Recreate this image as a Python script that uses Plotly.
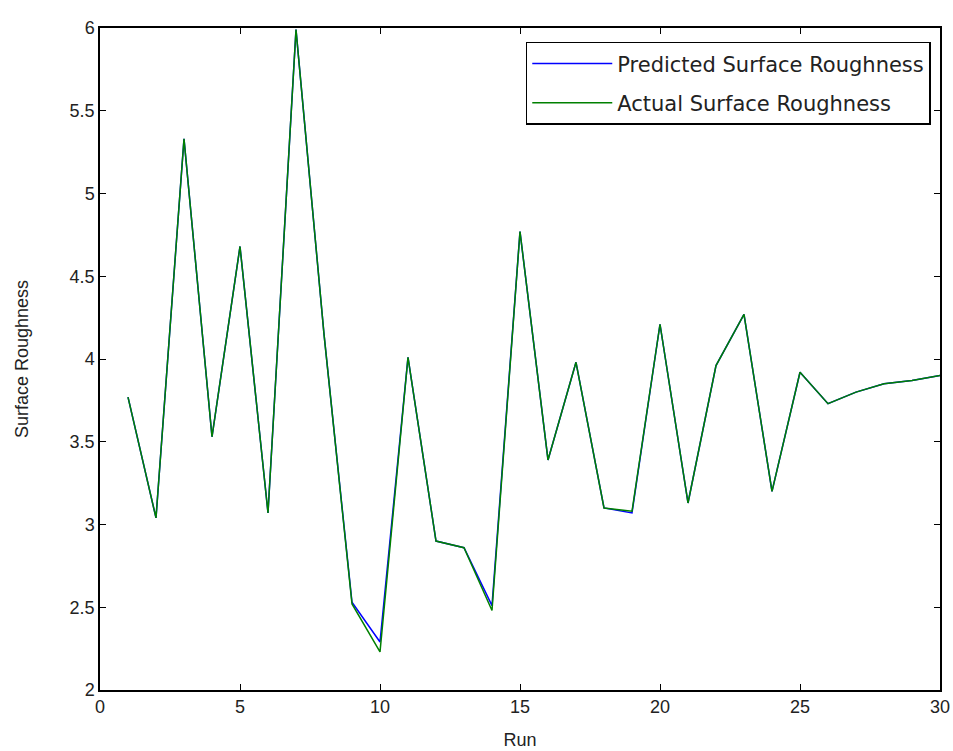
import plotly.graph_objects as go

runs = list(range(1, 31))
predicted = [3.77, 3.04, 5.33, 3.53, 4.68, 3.07, 5.99, 4.15, 2.53, 2.29,
             4.01, 2.90, 2.86, 2.51, 4.77, 3.39, 3.98, 3.10, 3.07, 4.21,
             3.13, 3.96, 4.27, 3.20, 3.92, 3.73, 3.80, 3.85, 3.87, 3.90]
actual = [3.77, 3.04, 5.33, 3.53, 4.68, 3.07, 5.99, 4.15, 2.52, 2.23,
          4.01, 2.90, 2.86, 2.48, 4.77, 3.39, 3.98, 3.10, 3.08, 4.21,
          3.13, 3.96, 4.27, 3.20, 3.92, 3.73, 3.80, 3.85, 3.87, 3.90]

x_ticks = [0, 5, 10, 15, 20, 25, 30]
y_ticks = [2, 2.5, 3, 3.5, 4, 4.5, 5, 5.5, 6]
y_tick_labels = ["2", "2.5", "3", "3.5", "4", "4.5", "5", "5.5", "6"]

fig = go.Figure()
fig.add_trace(go.Scatter(x=runs, y=predicted, mode="lines", name="Predicted Surface Roughness",
                         legendgroup="p", line=dict(color="#0000ff", width=1.5)))
fig.add_trace(go.Scatter(x=runs, y=actual, mode="lines", name="Actual Surface Roughness",
                         legendgroup="a", line=dict(color="#008000", width=1.5)))

axis_common = dict(showgrid=False, zeroline=False, showline=True, linecolor="black", linewidth=1.5,
                   mirror="ticks", ticks="inside", ticklen=6, tickcolor="black", automargin=False,
                   tickfont=dict(family="Liberation Sans, Arial", size=18, color="#222"))

fig.update_layout(
    width=953, height=751,
    margin=dict(l=100, r=13, t=28, b=61),
    paper_bgcolor="white", plot_bgcolor="white",
    font=dict(family="Liberation Sans, Arial", size=17, color="#222"),
    xaxis=dict(range=[0, 30], tickvals=x_ticks, title=dict(text="Run", standoff=17, font=dict(size=18)), **axis_common),
    yaxis=dict(range=[2, 6], tickvals=y_ticks, ticktext=y_tick_labels,
               title=dict(text="Surface Roughness", standoff=36, font=dict(size=18)), **axis_common),
    legend=dict(x=0.989, xanchor="right", y=0.979, yanchor="top", bordercolor="black", borderwidth=1.5,
                bgcolor="white", font=dict(family="DejaVu Sans", size=21, color="#222"),
                tracegroupgap=9, itemwidth=80),
    showlegend=True,
)

fig.write_html("out.html")
